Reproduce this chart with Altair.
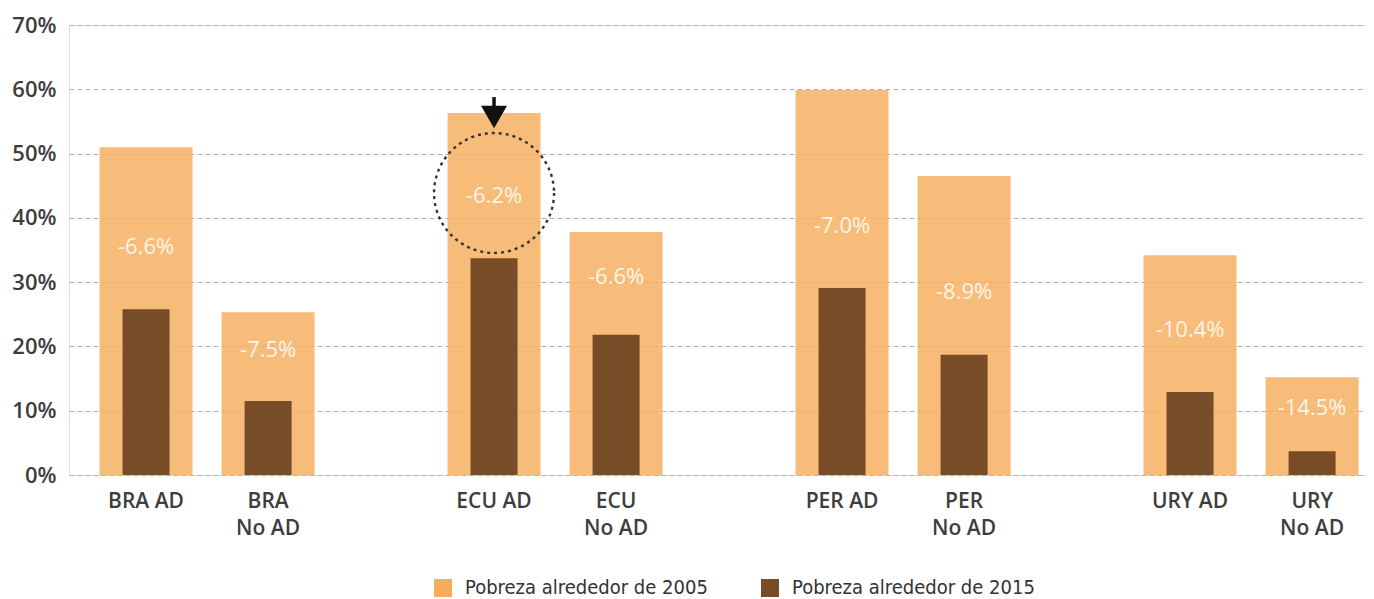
import altair as alt
import pandas as pd

# ---- data ----
country = ["BRA", "BRA", "ECU", "ECU", "PER", "PER", "URY", "URY"]
group = ["AD", "No AD", "AD", "No AD", "AD", "No AD", "AD", "No AD"]
cat_label = ["BRA AD", "BRA\nNo AD", "ECU AD", "ECU\nNo AD",
             "PER AD", "PER\nNo AD", "URY AD", "URY\nNo AD"]
pov_2005 = [51.0, 25.3, 56.3, 37.8, 59.9, 46.5, 34.2, 15.2]
pov_2015 = [25.8, 11.5, 33.7, 21.8, 29.1, 18.7, 12.9, 3.7]
change = [-6.6, -7.5, -6.2, -6.6, -7.0, -8.9, -10.4, -14.5]
y_ticks = [0, 10, 20, 30, 40, 50, 60, 70]
L05 = "Pobreza alrededor de 2005"
L15 = "Pobreza alrededor de 2015"

df = pd.DataFrame({
    "country": country, "group": group, "cat": cat_label,
    "p2005": pov_2005, "p2015": pov_2015, "change": change,
})

W, H = 1297, 450
LIGHT = "#F5AD5C"
DARK = "#794C28"
TXT = "#3d3d3d"
LEGEND_FONT = "DejaVu Sans Condensed, Roboto Condensed, Liberation Sans, sans-serif"

xenc = alt.X("country:N", sort=None,
             scale=alt.Scale(paddingInner=0.382, paddingOuter=0.0545, align=0.805),
             axis=None)
xo = alt.XOffset("group:N", sort=None,
                 scale=alt.Scale(paddingInner=0.238, paddingOuter=0))
yscale = alt.Scale(domain=[0, 70], nice=False)
yaxis = alt.Axis(values=y_ticks, labelExpr="datum.value + '%'", grid=True,
                 gridDash=[5, 3], gridColor="#b3b3b3", gridWidth=1.2,
                 domain=False, ticks=False, labelFont="Open Sans",
                 labelFontSize=22, labelFontWeight=600, labelColor=TXT,
                 labelPadding=13, title=None)
cscale = alt.Scale(domain=[L05, L15], range=[LIGHT, DARK])
legend = alt.Legend(orient="none", legendX=364, legendY=553, direction="horizontal",
                    symbolType="square", symbolSize=324, symbolStrokeWidth=0,
                    symbolOpacity=1,
                    labelFont=LEGEND_FONT, labelFontSize=20, labelLimit=500,
                    labelColor="#333333", labelOffset=12, columnPadding=52,
                    padding=0, title=None)

base = alt.Chart(df)

wide = base.transform_calculate(series=f"'{L05}'").mark_bar(opacity=0.82).encode(
    x=xenc, xOffset=xo,
    y=alt.Y("p2005:Q", scale=yscale, axis=yaxis),
    color=alt.Color("series:N", scale=cscale, legend=legend),
)

narrow = base.transform_calculate(series=f"'{L15}'").mark_bar(width=47).encode(
    x=xenc, xOffset=xo,
    y=alt.Y("p2015:Q"),
    color=alt.Color("series:N", scale=cscale, legend=legend),
)

LABY = "min(datum.p2015 + 9.7, (datum.p2005 + datum.p2015) / 2 + 1)"

values = base.transform_calculate(
    laby=LABY,
    lab="(datum.change < 0 ? '-' : '') + format(abs(datum.change), '.1f') + '%'",
).mark_text(font="Open Sans", fontSize=22, color="#FFF5EA", baseline="middle").encode(
    x=xenc, xOffset=xo, y=alt.Y("laby:Q"), text="lab:N",
)

cats = base.mark_text(font="Open Sans", fontSize=21, fontWeight=600, color=TXT,
                      baseline="top", lineHeight=27, lineBreak="\n").encode(
    x=xenc, xOffset=xo, y=alt.value(H + 16), text="cat:N",
)

focus = base.transform_filter(
    "datum.country == 'ECU' && datum.group == 'AD'"
).transform_calculate(laby=LABY)

circle = focus.mark_point(shape="circle", size=14400, filled=False, stroke="#333333",
                          strokeWidth=2.4, strokeDash=[3, 4], opacity=1, yOffset=-3).encode(
    x=xenc, xOffset=xo, y=alt.Y("laby:Q"),
)

shaft = focus.mark_rule(color="#111111", strokeWidth=3.5, yOffset=-16, y2Offset=-3).encode(
    x=xenc, xOffset=xo, y=alt.Y("p2005:Q"), y2=alt.Y2("p2005:Q"),
)

head = focus.mark_point(shape="triangle-down", size=676, filled=True, color="#111111",
                        opacity=1, yOffset=4).encode(
    x=xenc, xOffset=xo, y=alt.Y("p2005:Q"),
)

chart = alt.layer(wide, narrow, values, cats, circle, shaft, head).properties(
    width=W, height=H,
    autosize=alt.AutoSizeParams(type="none"),
    padding={"left": 61, "top": 17, "right": 0, "bottom": 124},
).configure_view(stroke=None).configure(background="white")

chart.save("out.html", embed_options={"renderer": "svg", "actions": False})
